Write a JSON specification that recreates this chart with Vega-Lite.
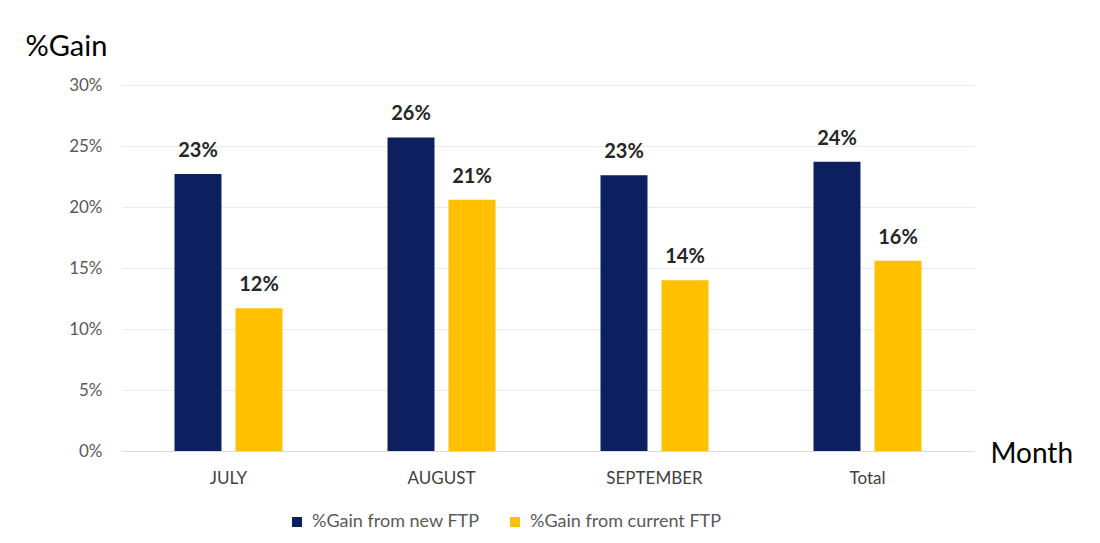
{
  "$schema": "https://vega.github.io/schema/vega-lite/v6.json",
  "autosize": "none",
  "width": 852,
  "height": 366,
  "padding": {"left": 122, "top": 85, "right": 126, "bottom": 92},
  "background": "white",
  "config": {"view": {"stroke": null}, "font": "Lato"},
  "data": {
    "values": [
      {"month": "JULY", "series": "%Gain from new FTP", "gain": 0.227},
      {"month": "JULY", "series": "%Gain from current FTP", "gain": 0.117},
      {"month": "AUGUST", "series": "%Gain from new FTP", "gain": 0.257},
      {"month": "AUGUST", "series": "%Gain from current FTP", "gain": 0.206},
      {"month": "SEPTEMBER", "series": "%Gain from new FTP", "gain": 0.226},
      {"month": "SEPTEMBER", "series": "%Gain from current FTP", "gain": 0.14},
      {"month": "Total", "series": "%Gain from new FTP", "gain": 0.237},
      {"month": "Total", "series": "%Gain from current FTP", "gain": 0.156}
    ]
  },
  "encoding": {
    "x": {
      "field": "month", "type": "nominal", "sort": ["JULY", "AUGUST", "SEPTEMBER", "Total"],
      "scale": {"paddingInner": 0.493, "paddingOuter": 0.2465},
      "axis": {
        "title": "Month", "titleFont": "Lato", "titleFontSize": 28, "titleFontWeight": "normal", "titleColor": "#000000",
        "titleX": 868, "titleY": 11, "titleAlign": "left", "titleBaseline": "alphabetic", "titleAnchor": null,
        "labelAngle": 0, "labelFontSize": 17, "labelColor": "#404040", "labelPadding": 19,
        "ticks": false, "domain": true, "domainColor": "#d9d9d9", "domainWidth": 1
      }
    },
    "xOffset": {"field": "series", "type": "nominal", "sort": ["%Gain from new FTP", "%Gain from current FTP"], "scale": {"paddingInner": 0.23}},
    "y": {
      "field": "gain", "type": "quantitative",
      "scale": {"domain": [0, 0.3]},
      "axis": {
        "title": "%Gain", "titleFont": "Lato", "titleFontSize": 29, "titleFontWeight": "normal", "titleColor": "#000000",
        "titleAngle": 0, "titleX": -97, "titleY": -30, "titleAlign": "left", "titleBaseline": "alphabetic", "titleAnchor": null,
        "format": ".0%", "values": [0, 0.05, 0.1, 0.15, 0.2, 0.25, 0.3],
        "labelFontSize": 17, "labelColor": "#595959", "labelPadding": 20,
        "ticks": false, "domain": false, "grid": true, "gridColor": "#ebebeb", "gridWidth": 1
      }
    }
  },
  "layer": [
    {
      "mark": {"type": "bar"},
      "encoding": {
        "color": {
          "field": "series", "type": "nominal",
          "sort": ["%Gain from new FTP", "%Gain from current FTP"],
          "scale": {"domain": ["%Gain from new FTP", "%Gain from current FTP"], "range": ["#0c1f5e", "#ffc000"]},
          "legend": {
            "title": null, "orient": "none", "direction": "horizontal",
            "legendX": 166, "legendY": 428,
            "symbolType": "square", "symbolSize": 100, "symbolStrokeWidth": 0,
            "labelFontSize": 18, "labelColor": "#595959", "labelFont": "Lato", "labelLimit": 400,
            "columnPadding": 26, "labelOffset": 6
          }
        }
      }
    },
    {
      "mark": {"type": "text", "dy": -13, "baseline": "bottom", "fontSize": 20, "fontWeight": "bold", "color": "#262626", "font": "Lato"},
      "encoding": {
        "text": {"field": "gain", "type": "quantitative", "format": ".0%"}
      }
    }
  ]
}
